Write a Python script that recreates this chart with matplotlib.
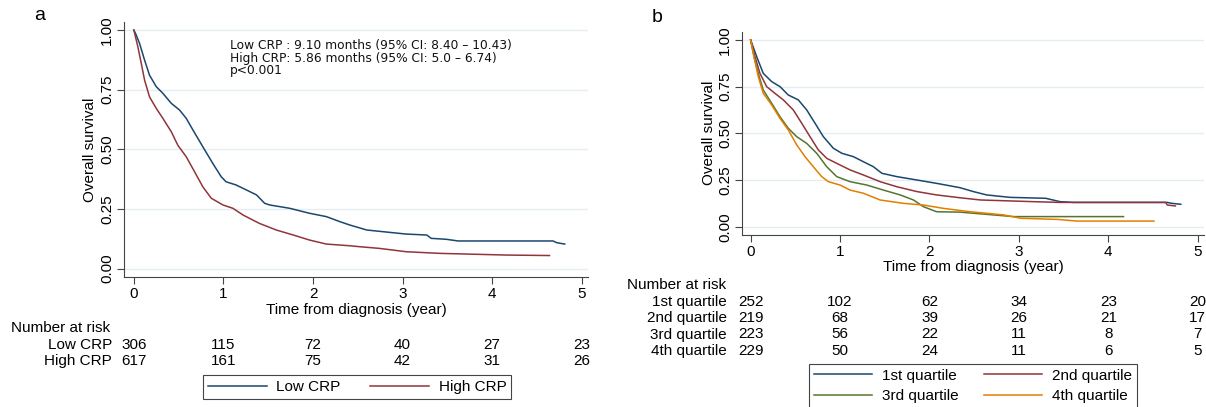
import matplotlib
matplotlib.use("Agg")
import matplotlib.pyplot as plt
from matplotlib.lines import Line2D
from matplotlib.transforms import blended_transform_factory

plt.rcParams["font.family"] = ["Liberation Sans", "DejaVu Sans"]

W, H = 1206, 407

# ---- panel a : CRP groups ----
LOW_T = [0, 0.02, 0.064, 0.12, 0.175, 0.25, 0.324, 0.418, 0.51, 0.585, 0.66, 0.77,
         0.883, 0.976, 1.03, 1.14, 1.256, 1.37, 1.46, 1.516, 1.74, 1.963, 2.15, 2.30,
         2.41, 2.60, 2.78, 3.04, 3.27, 3.32, 3.49, 3.62, 4.68, 4.72, 4.81]
LOW_S = [1, 0.985, 0.944, 0.874, 0.811, 0.763, 0.735, 0.693, 0.665, 0.63, 0.581, 0.511,
         0.44, 0.385, 0.364, 0.351, 0.33, 0.309, 0.274, 0.267, 0.253, 0.232, 0.218, 0.197,
         0.183, 0.162, 0.155, 0.145, 0.141, 0.127, 0.123, 0.116, 0.116, 0.109, 0.103]
HIGH_T = [0, 0.045, 0.083, 0.12, 0.175, 0.25, 0.324, 0.418, 0.49, 0.585, 0.678, 0.77,
          0.865, 0.994, 1.106, 1.218, 1.40, 1.59, 1.78, 1.96, 2.15, 2.41, 2.52, 2.74,
          3.04, 3.42, 4.16, 4.64]
HIGH_S = [1, 0.93, 0.86, 0.79, 0.72, 0.672, 0.63, 0.574, 0.518, 0.469, 0.406, 0.343,
          0.295, 0.267, 0.253, 0.225, 0.19, 0.162, 0.141, 0.12, 0.103, 0.096, 0.092, 0.085,
          0.071, 0.064, 0.057, 0.055]
RISK_A_LABELS = ["Low CRP", "High CRP"]
RISK_A = [[306, 115, 72, 40, 27, 23],
          [617, 161, 75, 42, 31, 26]]

# ---- panel b : quartiles ----
Q1_T = [0, 0.067, 0.141, 0.235, 0.328, 0.421, 0.533, 0.627, 0.72, 0.813, 0.925, 1.02,
        1.149, 1.26, 1.373, 1.467, 1.635, 1.859, 2.08, 2.34, 2.49, 2.64, 2.90, 3.30,
        3.46, 3.61, 4.66, 4.71, 4.81]
Q1_S = [1, 0.911, 0.821, 0.777, 0.75, 0.705, 0.679, 0.625, 0.554, 0.482, 0.42, 0.393,
        0.375, 0.348, 0.321, 0.286, 0.268, 0.25, 0.232, 0.209, 0.188, 0.17, 0.157, 0.152,
        0.134, 0.13, 0.13, 0.125, 0.12]
Q2_T = [0, 0.048, 0.104, 0.179, 0.272, 0.365, 0.477, 0.571, 0.664, 0.757, 0.851, 0.963,
        1.112, 1.26, 1.448, 1.635, 1.859, 2.08, 2.34, 2.57, 3.16, 3.46, 4.64, 4.66, 4.75]
Q2_S = [1, 0.911, 0.821, 0.75, 0.714, 0.679, 0.625, 0.554, 0.482, 0.411, 0.366, 0.339,
        0.304, 0.277, 0.241, 0.214, 0.188, 0.17, 0.155, 0.143, 0.134, 0.13, 0.13, 0.116, 0.111]
Q3_T = [0, 0.037, 0.085, 0.141, 0.235, 0.328, 0.421, 0.515, 0.627, 0.739, 0.851, 0.963,
        1.112, 1.299, 1.485, 1.672, 1.821, 1.933, 2.08, 2.34, 2.64, 2.94, 4.17]
Q3_S = [1, 0.911, 0.821, 0.732, 0.661, 0.589, 0.527, 0.482, 0.446, 0.393, 0.321, 0.268,
        0.241, 0.223, 0.196, 0.17, 0.143, 0.107, 0.08, 0.078, 0.066, 0.054, 0.054]
Q4_T = [0, 0.037, 0.085, 0.141, 0.235, 0.328, 0.421, 0.515, 0.608, 0.701, 0.795, 0.869,
        1.0, 1.112, 1.261, 1.448, 1.709, 1.933, 2.157, 2.456, 2.57, 2.83, 3.02, 3.43,
        3.65, 4.51]
Q4_S = [1, 0.911, 0.804, 0.714, 0.652, 0.58, 0.518, 0.438, 0.375, 0.321, 0.268, 0.241,
        0.223, 0.196, 0.179, 0.143, 0.125, 0.116, 0.098, 0.08, 0.075, 0.063, 0.045, 0.039,
        0.03, 0.03]
RISK_B_LABELS = ["1st quartile", "2nd quartile", "3rd quartile", "4th quartile"]
RISK_B = [[252, 102, 62, 34, 23, 20],
          [219, 68, 39, 26, 21, 17],
          [223, 56, 22, 11, 8, 7],
          [229, 50, 24, 11, 6, 5]]

XTICKS = [0, 1, 2, 3, 4, 5]
YTICKS = [0, 0.25, 0.5, 0.75, 1.0]
YTICKLABELS = ["0.00", "0.25", "0.50", "0.75", "1.00"]

NAVY, MAROON, GREEN, ORANGE = "#1a476f", "#90353b", "#55752f", "#e37e00"
FS = 11


def fx(px):
    return px / W


def fy(py):
    return 1 - py / H


def style_axes(ax, ylim):
    ax.set_xlim(-0.11, 5.07)
    ax.set_ylim(*ylim)
    ax.set_xticks(XTICKS)
    ax.set_yticks(YTICKS)
    ax.set_yticklabels(YTICKLABELS, rotation=90, va="center")
    for s in ["top", "right"]:
        ax.spines[s].set_visible(False)
    for s in ["left", "bottom"]:
        ax.spines[s].set_color("#444444")
        ax.spines[s].set_linewidth(0.8)
    ax.tick_params(direction="out", length=5, width=0.8, color="#444444",
                   labelsize=FS, pad=2)
    ax.yaxis.grid(True, color="#e4eef0", lw=1)
    ax.set_axisbelow(True)


fig = plt.figure(figsize=(W / 100, H / 100), dpi=100)

# panel a
axa = fig.add_axes([fx(124), fy(277), fx(588 - 124), (277 - 22) / H])
axa.plot(LOW_T, LOW_S, color=NAVY, lw=1.1)
axa.plot(HIGH_T, HIGH_S, color=MAROON, lw=1.1)
style_axes(axa, (-0.035, 1.034))
fig.text(fx(90), fy(150), "Overall survival", rotation=90, ha="center", va="center", fontsize=FS)
fig.text(fx(356), fy(310), "Time from diagnosis (year)", ha="center", va="center", fontsize=FS)
fig.text(fx(40), fy(15), "a", ha="center", va="center", fontsize=14)
ann = ["Low CRP : 9.10 months (95% CI: 8.40 \u2013 10.43)",
       "High CRP: 5.86 months (95% CI: 5.0 \u2013 6.74)",
       "p<0.001"]
for i, line in enumerate(ann):
    fig.text(fx(230), fy(46 + 12.3 * i), line, ha="left", va="center",
             fontsize=8.8, family="DejaVu Sans", color="#111111")

tra = blended_transform_factory(axa.transData, fig.transFigure)
fig.text(fx(11), fy(328), "Number at risk", ha="left", va="center", fontsize=FS)
for i, (lab, row) in enumerate(zip(RISK_A_LABELS, RISK_A)):
    yy = fy(345 + 16 * i)
    fig.text(fx(112), yy, lab, ha="right", va="center", fontsize=FS)
    for t, n in zip(XTICKS, row):
        fig.text(t, yy, str(n), transform=tra, ha="center", va="center", fontsize=FS)

hand_a = [Line2D([], [], color=NAVY, lw=1.1), Line2D([], [], color=MAROON, lw=1.1)]
leg_a = fig.legend(hand_a, RISK_A_LABELS, loc="center", ncol=2,
                   bbox_to_anchor=(fx(357), fy(387)), bbox_transform=fig.transFigure,
                   fontsize=FS, fancybox=False, edgecolor="#444444", framealpha=1,
                   handlelength=3.85, handletextpad=0.65, columnspacing=1.9,
                   borderpad=0.3, borderaxespad=0)
leg_a.get_frame().set_linewidth(0.8)

# panel b
axb = fig.add_axes([fx(741.7), fy(235), fx(1204 - 741.7), (235 - 31.7) / H])
axb.plot(Q1_T, Q1_S, color=NAVY, lw=1.1)
axb.plot(Q2_T, Q2_S, color=MAROON, lw=1.1)
axb.plot(Q3_T, Q3_S, color=GREEN, lw=1.1)
axb.plot(Q4_T, Q4_S, color=ORANGE, lw=1.1)
style_axes(axb, (-0.0445, 1.044))
axb.set_xlim(-0.10, 5.07)
fig.text(fx(709), fy(133), "Overall survival", rotation=90, ha="center", va="center", fontsize=FS)
fig.text(fx(973), fy(267), "Time from diagnosis (year)", ha="center", va="center", fontsize=FS)
fig.text(fx(657), fy(17), "b", ha="center", va="center", fontsize=14)

trb = blended_transform_factory(axb.transData, fig.transFigure)
fig.text(fx(627), fy(285), "Number at risk", ha="left", va="center", fontsize=FS)
for i, (lab, row) in enumerate(zip(RISK_B_LABELS, RISK_B)):
    yy = fy(301.7 + 16.4 * i)
    fig.text(fx(727), yy, lab, ha="right", va="center", fontsize=FS)
    for t, n in zip(XTICKS, row):
        fig.text(t, yy, str(n), transform=trb, ha="center", va="center", fontsize=FS)

# legend is filled column by column, so 1st/3rd go in the left column
hand_b = [Line2D([], [], color=c, lw=1.1) for c in [NAVY, MAROON, GREEN, ORANGE]]
order = [0, 2, 1, 3]
leg_b = fig.legend([hand_b[i] for i in order], [RISK_B_LABELS[i] for i in order],
                   loc="upper center", ncol=2,
                   bbox_to_anchor=(fx(973), fy(364)), bbox_transform=fig.transFigure,
                   fontsize=FS, fancybox=False, edgecolor="#444444", framealpha=1,
                   handlelength=3.8, handletextpad=0.65, columnspacing=1.7,
                   borderpad=0.3, labelspacing=0.45, borderaxespad=0)
leg_b.get_frame().set_linewidth(0.8)

fig.savefig("out.png", dpi=100)
